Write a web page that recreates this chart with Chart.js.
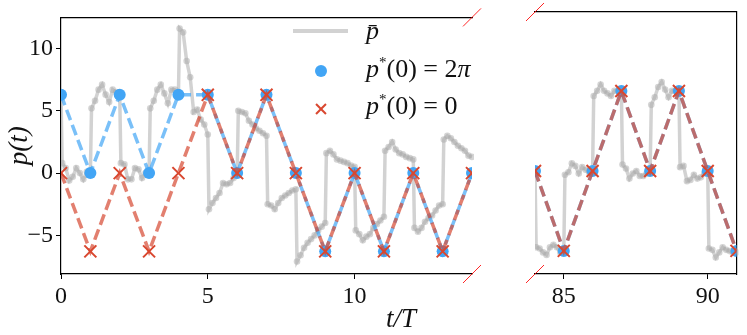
<!DOCTYPE html>
<html>
<head>
<meta charset="utf-8">
<script src="https://cdn.jsdelivr.net/npm/chart.js@4.4.1/dist/chart.umd.min.js"></script>
<style>
  body { margin: 0; background: #fff; }
  #wrap { position: relative; width: 747px; height: 335px; overflow: hidden; font-family: 'Liberation Serif', 'DejaVu Serif', serif; color: #111; }
  #leftChart { position: absolute; left: 0; top: 0; }
  #rightChart { position: absolute; left: 520px; top: 0; }
  .lg { position: absolute; }
  .lg-line { width: 55px; height: 4px; background: rgba(180,180,180,0.6); }
  .lg-dot { width: 12px; height: 12px; border-radius: 50%; background: #42A5F5; }
  .lg-cross { width: 14px; height: 2px; background: #D9472F; }
  .lg-text { font-size: 26px; line-height: 30px; white-space: nowrap; }
  .lg-text sup { font-size: 15px; vertical-align: 10px; line-height: 0; }
  #xTitle { position: absolute; left: 361px; width: 80px; top: 302px; text-align: center; font-size: 27px; line-height: 32px; font-style: italic; }
</style>
</head>
<body>
<div id="wrap">
  <canvas id="leftChart" width="490" height="335" style="width:490px;height:335px"></canvas>
  <canvas id="rightChart" width="227" height="335" style="width:227px;height:335px"></canvas>

  <div class="lg lg-line" style="left:293px; top:29px"></div>
  <div class="lg lg-dot" style="left:315px; top:65px"></div>
  <div class="lg lg-cross" style="left:314px; top:108px; transform: rotate(45deg)"></div>
  <div class="lg lg-cross" style="left:314px; top:108px; transform: rotate(-45deg)"></div>
  <div class="lg lg-text" style="left:366px; top:16px"><i>p̄</i></div>
  <div class="lg lg-text" style="left:366px; top:54px"><i>p</i><sup>*</sup>(0) = 2<i>π</i></div>
  <div class="lg lg-text" style="left:366px; top:91px"><i>p</i><sup>*</sup>(0) = 0</div>

  <div id="xTitle">t/T</div>
</div>

<script>
const TWO_PI = 2 * Math.PI;
const FONT = "'Liberation Serif', 'DejaVu Serif', serif";

// tick labels
const xTicksLeft = [0, 5, 10];
const xTicksRight = [85, 90];
const yTicks = [-5, 0, 5, 10];

// sample times inside one period (first one = end of the previous plateau)
const sampleOffsets = [0, 0.04, 0.16, 0.28, 0.40, 0.52, 0.64, 0.76, 0.88];

// p-bar, one row per period, t = 0 .. 14
const pbarLeft = [
  [6.3, 0.8, 0.4, -0.6, -0.3, 0.4, 0.0, -0.5, 0.1],
  [-0.1, 5.2, 5.8, 6.7, 7.1, 6.3, 5.7, 6.7, 6.5],
  [6.3, 0.8, 0.7, -0.5, -0.5, 0.4, 0.3, -0.4, 0.0],
  [0.0, 5.2, 5.8, 6.7, 7.1, 6.4, 5.6, 6.7, 6.7],
  [6.3, 11.6, 11.3, 9.0, 7.7, 4.9, 5.1, 4.3, 3.9],
  [3.1, -2.9, -2.4, -2.0, -1.6, -0.8, -0.9, -0.8, -0.4],
  [-0.2, 5.0, 4.9, 4.8, 4.2, 3.9, 3.6, 3.4, 3.2],
  [3.0, -2.5, -2.6, -2.9, -2.4, -2.0, -1.8, -1.6, -1.4],
  [-1.3, -7.1, -6.6, -6.0, -5.6, -5.3, -5.0, -4.6, -4.3],
  [-4.0, 1.6, 1.8, 1.5, 1.1, 1.0, 0.9, 0.8, 0.6],
  [0.5, -4.6, -4.9, -5.4, -5.1, -4.9, -4.4, -4.1, -3.8],
  [-3.5, 1.8, 2.1, 2.5, 1.9, 1.6, 1.5, 1.3, 1.2],
  [1.1, -4.4, -4.7, -4.4, -3.9, -3.6, -3.4, -3.0, -2.6],
  [-2.5, 2.7, 3.0, 2.8, 2.5, 2.2, 2.0, 1.8, 1.4],
  [1.3, 7.0]
];

// p-bar, t = 84 .. 91
const pbarRight = [
  [0.0, -6.0, -6.1, -6.4, -6.6, -6.0, -5.8, -6.0, -6.4],
  [-6.4, -0.3, -0.1, 0.6, 0.4, -0.2, 0.3, 0.1, -0.1],
  [0.0, 5.9, 6.3, 6.8, 6.3, 6.1, 5.9, 6.3, 6.3],
  [6.3, 0.5, 0.2, -0.6, -0.2, 0.0, -0.4, -0.4, -0.2],
  [0.0, 5.2, 5.8, 6.6, 7.0, 6.4, 5.8, 6.3, 6.3],
  [6.3, 0.3, 0.4, -0.8, -0.7, -0.3, -0.6, -0.5, -0.2],
  [0.0, -6.1, -6.2, -6.8, -6.4, -6.0, -6.2, -6.3, -6.4],
  [-6.4]
];

// p* at every period, in units of 2π
const tLeft = [0, 1, 2, 3, 4, 5, 6, 7, 8, 9, 10, 11, 12, 13, 14];
const starTwoPiLeft = [1, 0, 1, 0, 1, 1, 0, 1, 0, -1, 0, -1, 0, -1, 0];
const starZeroLeft = [0, -1, 0, -1, 0, 1, 0, 1, 0, -1, 0, -1, 0, -1, 0];
const tRight = [84, 85, 86, 87, 88, 89, 90, 91];
const starTwoPiRight = [0, -1, 0, 1, 0, 1, 0, -1];
const starZeroRight = [0, -1, 0, 1, 0, 1, 0, -1];

function pbarPoints(rows, firstUnit) {
  const pts = [];
  rows.forEach((row, i) => row.forEach((p, k) => pts.push({ x: firstUnit + i + sampleOffsets[k], y: p })));
  return pts;
}
function starPoints(ts, vals) {
  return ts.map((t, i) => ({ x: t, y: vals[i] * TWO_PI }));
}

// little red diagonal marks of the broken axis
const breakMarks = {
  id: 'breakMarks',
  afterDraw(chart, args, opts) {
    const { ctx, chartArea: a } = chart;
    const x = opts.side === 'right' ? a.right : a.left;
    ctx.save();
    ctx.strokeStyle = 'rgba(255,0,0,0.85)';
    ctx.lineWidth = 1;
    [a.top, a.bottom].forEach(y => {
      ctx.beginPath();
      ctx.moveTo(x - 9, y + 9);
      ctx.lineTo(x + 9, y - 9);
      ctx.stroke();
    });
    ctx.restore();
  }
};

const tickFont = { family: FONT, size: 24 };
const spine = { display: true, color: '#000', width: 1.2 };

function makeChart(id, o) {
  return new Chart(document.getElementById(id), {
    type: 'line',
    data: {
      datasets: [
        {
          label: 'p*(0) = 0', data: o.zero,
          borderColor: 'rgba(214,72,50,0.7)', borderWidth: 3.5, borderDash: [11, 5],
          pointStyle: 'crossRot', pointRadius: 8.5, pointBorderColor: '#D9472F', pointBorderWidth: 2,
          pointBackgroundColor: 'transparent', clip: 0
        },
        {
          label: 'p*(0) = 2π', data: o.twoPi,
          borderColor: 'rgba(66,165,245,0.7)', borderWidth: 3.5, borderDash: [11, 5],
          pointStyle: 'circle', pointRadius: 6, pointBackgroundColor: '#42A5F5', pointBorderWidth: 0, clip: 0
        },
        {
          label: 'p̄', data: o.pbar,
          borderColor: 'rgba(180,180,180,0.6)', borderWidth: 3.5,
          pointRadius: 3.3, pointBackgroundColor: 'rgba(170,170,170,0.5)', pointBorderWidth: 0,
          clip: { left: 0, top: 0, right: 2, bottom: 0 }
        }
      ]
    },
    options: {
      responsive: false,
      animation: false,
      devicePixelRatio: 1,
      layout: { padding: o.padding },
      plugins: { legend: { display: false }, tooltip: { enabled: false }, breakMarks: { side: o.side } },
      scales: {
        x: {
          type: 'linear', min: o.xMin, max: o.xMax,
          afterBuildTicks: s => { s.ticks = o.xTicks.map(v => ({ value: v })); },
          afterFit: s => { s.height = 61; },
          grid: { drawOnChartArea: false, tickLength: 5, color: '#000' },
          border: spine,
          ticks: { font: tickFont, color: '#111', padding: 3, maxRotation: 0 }
        },
        xTop: {
          type: 'linear', position: 'top',
          afterFit: s => { s.height = 0; },
          grid: { display: false, drawTicks: false },
          border: spine,
          ticks: { display: false }
        },
        y: o.yAxis,
        ...o.extraScales
      }
    },
    plugins: [breakMarks]
  });
}

const yRange = { min: -8.1, max: 12.5 };

makeChart('leftChart', {
  zero: starPoints(tLeft, starZeroLeft),
  twoPi: starPoints(tLeft, starTwoPiLeft),
  pbar: pbarPoints(pbarLeft, 0),
  xMin: 0, xMax: 14, xTicks: xTicksLeft,
  side: 'right',
  padding: { top: 12, right: 18, left: 0, bottom: 0 },
  yAxis: {
    type: 'linear', ...yRange,
    afterBuildTicks: s => { s.ticks = yTicks.map(v => ({ value: v })); },
    afterFit: s => { s.width = 61; },
    grid: { drawOnChartArea: false, tickLength: 5, color: '#000' },
    border: spine,
    ticks: { font: tickFont, color: '#111', padding: 3, callback: v => String(v).replace('-', '\u2212') },
    title: { display: true, text: 'p(t)', color: '#111', font: { family: FONT, size: 27, style: 'italic' }, padding: { top: 4, bottom: 0 } }
  },
  extraScales: {}
});

makeChart('rightChart', {
  zero: starPoints(tRight, starZeroRight),
  twoPi: starPoints(tRight, starTwoPiRight),
  pbar: pbarPoints(pbarRight, 84),
  xMin: 84, xMax: 91, xTicks: xTicksRight,
  side: 'left',
  padding: { top: 12, right: 6, left: 15, bottom: 0 },
  yAxis: { type: 'linear', display: false, ...yRange },
  extraScales: {
    yRight: {
      type: 'linear', position: 'right',
      afterFit: s => { s.width = 0; },
      grid: { display: false, drawTicks: false },
      border: spine,
      ticks: { display: false }
    }
  }
});
</script>
</body>
</html>
